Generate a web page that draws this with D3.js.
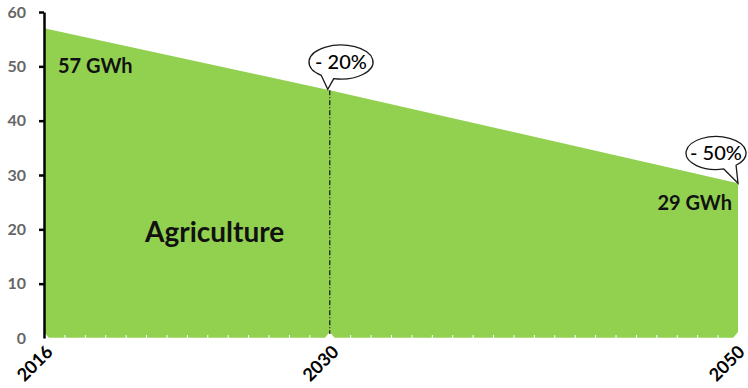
<!DOCTYPE html>
<html>
<head>
<meta charset="utf-8">
<script src="https://cdn.jsdelivr.net/npm/d3@7"></script>
<style>
  html, body { margin: 0; padding: 0; background: #fff; }
  svg { display: block; }
  text { font-family: Lato, "Open Sans", sans-serif; }
</style>
</head>
<body>
<svg id="chart" width="748" height="388"></svg>
<script>
// Agriculture consumption path (GWh)
const years = [2016, 2030, 2050];
const values = [57, 45.6, 28.5];
const yTicks = [0, 10, 20, 30, 40, 50, 60];
const xTickYears = [2016, 2030, 2050];
const reductionLabels = ["- 20%", "- 50%"];
const endLabels = ["57 GWh", "29 GWh"];
const seriesName = "Agriculture";

const svg = d3.select("#chart");
const margin = { left: 44, right: 10, top: 12, bottom: 50 };
const W = 748, H = 388;

const x = d3.scaleLinear().domain([2016, 2050]).range([margin.left, W - margin.right]);
const y = d3.scaleLinear().domain([0, 60]).range([H - margin.bottom, margin.top]);

const data = years.map((yr, i) => ({ yr, v: values[i] }));

// filled area
const area = d3.area().x(d => x(d.yr)).y0(y(0)).y1(d => y(d.v));
svg.append("path").datum(data).attr("d", area).attr("fill", "#92D050");

// small notches at the base of the category points
xTickYears.forEach(yr => {
  const cx = x(yr);
  svg.append("path")
    .attr("d", `M${cx - 5},${y(0)} L${cx},${y(0) - 6} L${cx + 5},${y(0)} Z`)
    .attr("fill", "#fff");
});

// white x baseline with yearly minor ticks
const xAxis = d3.axisBottom(x).tickValues(d3.range(2016, 2051)).tickSize(-3).tickFormat("");
const gx = svg.append("g").attr("transform", `translate(0,${y(0)})`).call(xAxis);
gx.select(".domain").attr("stroke", "#fff").attr("stroke-width", 1.5);
gx.selectAll(".tick line").attr("stroke", "#fff").attr("stroke-width", 1);

// x labels rotated
svg.append("g").selectAll("text").data(xTickYears).join("text")
  .attr("transform", d => `translate(${Math.min(x(d) + 10, W - 2)},${y(0) + 15}) rotate(-45)`)
  .attr("text-anchor", "end")
  .attr("font-size", 18)
  .attr("font-weight", 700)
  .attr("fill", "#000")
  .text(d => d);

// y axis
const yAxis = d3.axisLeft(y).tickValues(yTicks).tickSize(5).tickSizeOuter(0).tickPadding(13);
const gy = svg.append("g").attr("transform", `translate(${margin.left},0)`).call(yAxis);
gy.select(".domain").attr("stroke", "#000").attr("stroke-width", 2.5);
gy.selectAll(".tick line").attr("stroke", "#000").attr("stroke-width", 2.5);
gy.selectAll(".tick text")
  .attr("font-size", 16).attr("font-weight", 700).attr("fill", "#666")
  .attr("font-family", "Lato, sans-serif");
gy.selectAll(".tick").filter(d => d === 0).select("line").remove();

// dash-dot marker at 2030
svg.append("line")
  .attr("x1", x(2030)).attr("x2", x(2030))
  .attr("y1", y(values[1])).attr("y2", y(0) - 4)
  .attr("stroke", "#111").attr("stroke-width", 1.2)
  .attr("stroke-dasharray", "5,2,1,2");

// value labels
svg.append("text").attr("x", x(2016) + 14).attr("y", y(values[0]) + 45)
  .attr("font-size", 20).attr("font-weight", 700).attr("fill", "#111").text(endLabels[0]);
svg.append("text").attr("x", x(2050) - 6).attr("y", y(values[2]) + 27)
  .attr("text-anchor", "end")
  .attr("font-size", 20).attr("font-weight", 700).attr("fill", "#111").text(endLabels[1]);

// series name
svg.append("text").attr("x", 145).attr("y", 242)
  .attr("font-size", 28).attr("font-weight", 700).attr("fill", "#111").text(seriesName);

// speech bubbles
function bubble(cx, cy, rx, ry, a1, a2, tipX, tipY, label) {
  const r = a => a * Math.PI / 180;
  const p1 = [cx + rx * Math.cos(r(a1)), cy + ry * Math.sin(r(a1))];
  const p2 = [cx + rx * Math.cos(r(a2)), cy + ry * Math.sin(r(a2))];
  const d = `M${p1[0]},${p1[1]} A${rx},${ry} 0 1 1 ${p2[0]},${p2[1]} L${tipX},${tipY} Z`;
  svg.append("path").attr("d", d).attr("fill", "#fff").attr("stroke", "#1a1a1a").attr("stroke-width", 1.3);
  svg.append("text").attr("x", cx).attr("y", cy + 7).attr("text-anchor", "middle")
    .attr("font-size", 20).attr("font-weight", 500).attr("fill", "#000").text(label);
}
bubble(341, 62, 32, 17, 128, 103, x(2030) - 2, y(values[1]) - 1, reductionLabels[0]);
bubble(716, 153, 30, 16.5, 75, 48, x(2050), y(values[2]), reductionLabels[1]);
</script>
</body>
</html>
